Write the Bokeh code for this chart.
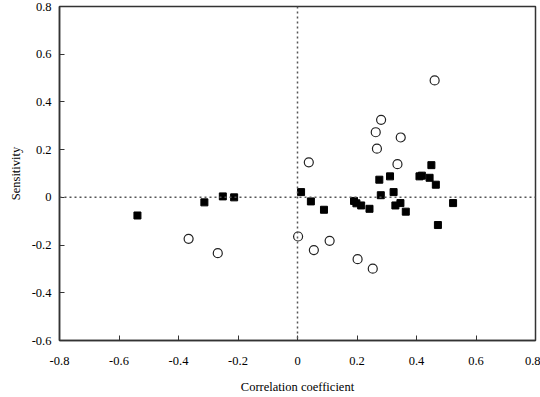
from bokeh.plotting import figure
from bokeh.models import Range1d, FixedTicker, Span
from bokeh.embed import file_html
from bokeh.resources import INLINE

# Open circles
circle_x = [-0.366, -0.268, 0.002, 0.038, 0.055, 0.108, 0.202, 0.253, 0.263, 0.267, 0.281, 0.336, 0.347, 0.461]
circle_y = [-0.174, -0.234, -0.164, 0.147, -0.221, -0.182, -0.259, -0.299, 0.273, 0.204, 0.325, 0.139, 0.251, 0.490]

# Filled squares
square_x = [-0.538, -0.313, -0.251, -0.213, 0.012, 0.045, 0.089, 0.190, 0.198, 0.214, 0.242, 0.275, 0.280,
            0.311, 0.323, 0.329, 0.346, 0.364, 0.410, 0.418, 0.444, 0.450, 0.465, 0.472, 0.523]
square_y = [-0.076, -0.021, 0.004, 0.000, 0.022, -0.017, -0.052, -0.015, -0.025, -0.034, -0.048, 0.074, 0.009,
            0.088, 0.022, -0.034, -0.024, -0.060, 0.088, 0.091, 0.082, 0.135, 0.053, -0.116, -0.024]

x_ticks = [-0.8, -0.6, -0.4, -0.2, 0, 0.2, 0.4, 0.6, 0.8]
x_tick_labels = ["-0.8", "-0.6", "-0.4", "-0.2", "0", "0.2", "0.4", "0.6", "0.8"]
y_ticks = [-0.6, -0.4, -0.2, 0, 0.2, 0.4, 0.6, 0.8]
y_tick_labels = ["-0.6", "-0.4", "-0.2", "0", "0.2", "0.4", "0.6", "0.8"]
x_title = "Correlation coefficient"
y_title = "Sensitivity"

FONT = "Liberation Serif"

p = figure(width=540, height=397, output_backend="svg", toolbar_location=None,
           x_range=Range1d(-0.8, 0.8), y_range=Range1d(-0.6, 0.8),
           min_border_left=59, min_border_right=5, min_border_top=6, min_border_bottom=57)
p.outline_line_color = "#333333"
p.outline_line_width = 1.5
p.grid.visible = False
p.background_fill_color = "white"
p.border_fill_color = "white"

for ax, ticks, labels in ((p.xaxis[0], x_ticks, x_tick_labels), (p.yaxis[0], y_ticks, y_tick_labels)):
    ax.ticker = FixedTicker(ticks=ticks, minor_ticks=[])
    ax.major_label_overrides = {t: l for t, l in zip(ticks, labels)}
    ax.major_tick_in = 5
    ax.major_tick_out = 0
    ax.minor_tick_in = 0
    ax.minor_tick_out = 0
    ax.axis_line_color = "#333333"
    ax.axis_line_width = 1.5
    ax.major_tick_line_color = "#333333"
    ax.major_label_text_font = FONT
    ax.major_label_text_font_size = "12.5px"
    ax.major_label_text_font_style = "normal"
    ax.major_label_text_color = "black"
    ax.axis_label_text_font = FONT
    ax.axis_label_text_font_size = "12.5px"
    ax.axis_label_text_font_style = "normal"
    ax.axis_label_text_color = "black"

p.xaxis.axis_label = x_title
p.yaxis.axis_label = y_title
p.xaxis.major_label_standoff = 16
p.xaxis.axis_label_standoff = 12
p.yaxis.major_label_standoff = 8
p.yaxis.axis_label_standoff = 6

p.add_layout(Span(location=0, dimension="width", line_color="#555555", line_dash="2 3", line_width=1.5))
p.add_layout(Span(location=0, dimension="height", line_color="#555555", line_dash="2 3", line_width=1.5))

p.scatter(square_x, square_y, marker="square", size=7, fill_color="black", line_color="black")
p.scatter(circle_x, circle_y, marker="circle", size=9, fill_color="white", line_color="#222222", line_width=1.2)

open("out.html", "w").write(file_html(p, INLINE))
